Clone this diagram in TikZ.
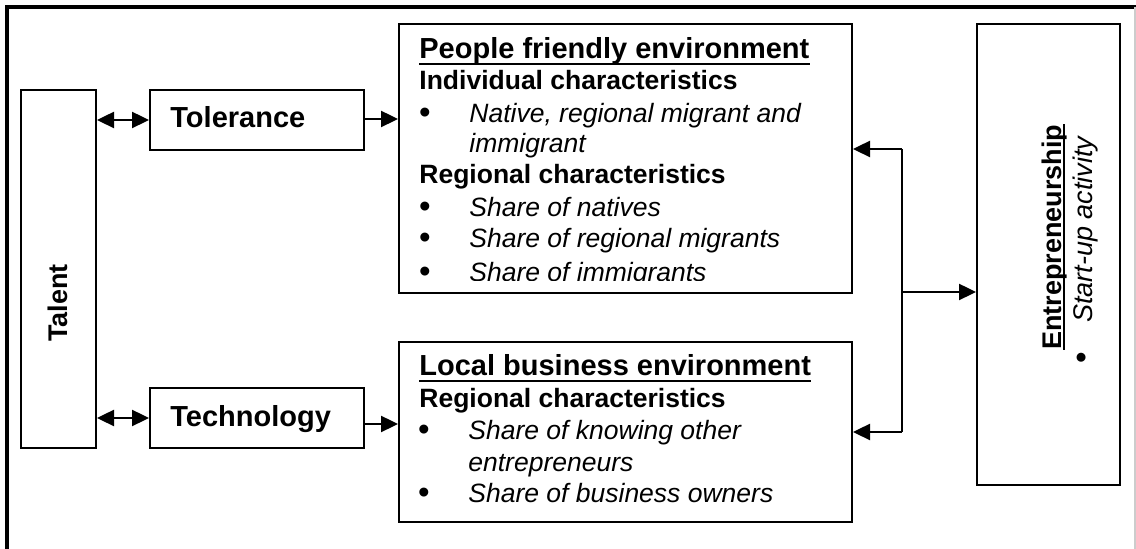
\documentclass[tikz,border=0pt]{standalone}
\usepackage{fontspec}
\setmainfont{Liberation Sans}
\usetikzlibrary{arrows.meta}
\newcommand{\fhead}{\fontsize{14.5pt}{17pt}\selectfont\bfseries}
\newcommand{\fsub}{\fontsize{13.25pt}{16pt}\selectfont\bfseries}
\newcommand{\fitem}{\fontsize{13.25pt}{16pt}\selectfont\itshape}
\newcommand{\fbul}{\fontsize{16.5pt}{17pt}\selectfont}
\newcommand{\fside}{\fontsize{13.5pt}{16pt}\selectfont\bfseries}
\begin{document}
\begin{tikzpicture}[x=0.5pt,y=-0.5pt,
  box/.style={draw, line width=1pt, inner sep=0, anchor=north west},
  txt/.style={inner sep=0, anchor=base west},
  bul/.style={inner sep=0, anchor=center},
  uline/.style={line width=1.2pt},
  tip/.tip={Triangle[length=8.5pt,width=8pt]},
  arr/.style={line width=1.2pt, -tip},
  darr/.style={line width=1.2pt, tip-tip},
  conn/.style={line width=1.1pt}]
\useasboundingbox (0,0) rectangle (1136,549);
% outer frame
\draw[line width=1.6pt] (7,549) -- (7,7) -- (1136,7);
\draw[black!20, line width=0.6pt] (1135,7) -- (1135,549);
% boxes
\node[box, minimum width=37.5pt, minimum height=179pt] (talent) at (20,89) {};
\node[box, minimum width=107pt, minimum height=30pt] (tol) at (149,89) {};
\node[box, minimum width=107pt, minimum height=30pt] (tech) at (149,387) {};
\node[box, minimum width=226.5pt, minimum height=134.5pt] (people) at (398,23) {};
\node[box, minimum width=226.5pt, minimum height=90pt] (local) at (398,341) {};
\node[box, minimum width=71.5pt, minimum height=230.5pt] (entre) at (976,23) {};
% box labels
\node[txt, rotate=90] (talentT) at (67,342) {\fside Talent};
\node[txt] (tolT) at (170,128) {\fhead Tolerance};
\node[txt] (techT) at (170,427) {\fhead Technology};
% people friendly environment
\node[txt] (pfe) at (419,59) {\fhead People friendly environment};
\draw[uline] ([yshift=-2.6pt]pfe.base west) -- ([yshift=-2.6pt]pfe.base east);
\node[txt] (pic) at (419,90) {\fsub Individual characteristics};
\node[bul] (pb1) at (425,116) {\fbul •};
\node[txt] (pi1) at (469,123) {\fitem Native, regional migrant and};
\node[txt] (pi1b) at (469,153) {\fitem immigrant};
\node[txt] (prc) at (419,184) {\fsub Regional characteristics};
\node[bul] (pb2) at (425,210) {\fbul •};
\node[txt] (pi2) at (469,217) {\fitem Share of natives};
\node[bul] (pb3) at (425,241) {\fbul •};
\node[txt] (pi3) at (469,248) {\fitem Share of regional migrants};
\begin{scope}
\clip (398,23) rectangle (851,281);
\node[bul] (pb4) at (425,275) {\fbul •};
\node[txt] (pi4) at (469,282) {\fitem Share of immigrants};
\end{scope}
% local business environment
\node[txt] (lbe) at (419,376) {\fhead Local business environment};
\draw[uline] ([yshift=-2.6pt]lbe.base west) -- ([yshift=-2.6pt]lbe.base east);
\node[txt] (lrc) at (419,408) {\fsub Regional characteristics};
\node[bul] (lb1) at (424,433) {\fbul •};
\node[txt] (li1) at (468,440) {\fitem Share of knowing other};
\node[txt] (li1b) at (468,472) {\fitem entrepreneurs};
\node[bul] (lb2) at (424,496) {\fbul •};
\node[txt] (li2) at (468,503) {\fitem Share of business owners};
% entrepreneurship
\node[txt, rotate=90] (ent) at (1061,350) {\fside Entrepreneurship};
\draw[uline] ([xshift=1.6pt]ent.base west) -- ([xshift=1.6pt]ent.base east);
\node[bul, rotate=90] (eb) at (1085,358) {\fbul •};
\node[txt, rotate=90] (ei) at (1092,323) {\fontsize{13.5pt}{16pt}\selectfont\itshape Start-up activity};
% connectors
\draw[darr] (tol.west -| talent.east) -- (tol.west);
\draw[arr] ([yshift=0.5pt]tol.east) -- ([yshift=0.5pt]tol.east -| people.west);
\draw[darr] (tech.west -| talent.east) -- (tech.west);
\draw[arr] ([yshift=-3pt]tech.east) -- ([yshift=-3pt]tech.east -| local.west);
\coordinate (jt) at (902,149);
\coordinate (jb) at (902,432);
\coordinate (jm) at (902,292);
\draw[conn] (jt) -- (jb);
\draw[arr] (jt) -- (jt -| people.east);
\draw[arr] (jb) -- (jb -| local.east);
\draw[arr] (jm) -- (jm -| entre.west);
\end{tikzpicture}
\end{document}
